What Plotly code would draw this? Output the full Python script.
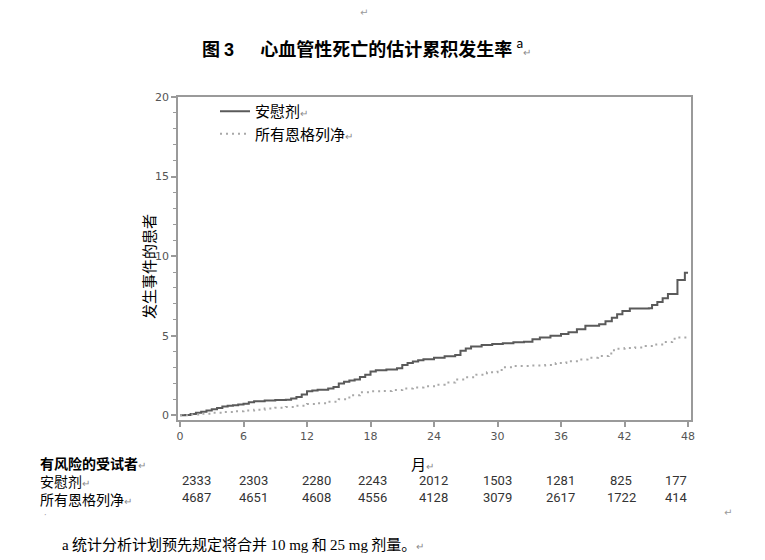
import plotly.graph_objects as go

# ---------------- data ----------------
placebo_month = [0, 0.5, 1, 1.5, 2, 2.5, 3, 3.5, 4, 4.5, 5, 5.5, 6, 6.5, 7, 8, 9, 10, 10.5, 11,
                 11.5, 12, 12.5, 13, 14, 14.5, 15, 15.5, 16, 16.5, 17, 17.5, 18, 18.5, 19.5, 20.5,
                 21, 21.5, 22, 22.5, 23, 24, 25, 26, 26.5, 27, 27.5, 28.5, 29.5, 30.5, 31.5, 32.5,
                 33.3, 34, 35, 36, 36.7, 37.5, 38.3, 39.6, 40.2, 40.8, 41.3, 41.8, 42.5, 44.3,
                 44.6, 45.1, 45.6, 46.1, 47.0, 47.7, 48]
placebo_ci = [0, 0.02, 0.08, 0.15, 0.22, 0.30, 0.38, 0.45, 0.55, 0.60, 0.62, 0.68, 0.72, 0.82, 0.88,
              0.92, 0.95, 0.98, 1.05, 1.15, 1.30, 1.50, 1.55, 1.60, 1.68, 1.78, 2.00, 2.10, 2.18,
              2.25, 2.40, 2.55, 2.75, 2.82, 2.88, 2.95, 3.15, 3.28, 3.38, 3.45, 3.52, 3.62, 3.70,
              3.78, 4.05, 4.20, 4.32, 4.42, 4.48, 4.52, 4.58, 4.62, 4.78, 4.88, 5.00, 5.10, 5.22,
              5.40, 5.62, 5.72, 5.90, 6.12, 6.35, 6.55, 6.70, 6.72, 6.92, 7.12, 7.35, 7.62, 8.50,
              8.95, 8.95]

ertu_month = [0, 1, 2, 3, 4, 5, 6, 7, 8, 9, 10, 11, 12, 13, 14, 15, 16, 17, 18, 19, 20, 21, 22,
              23, 24, 25, 26, 27, 28, 29, 30, 30.5, 31.5, 33, 34.5, 35.5, 36.5, 37.5, 38.5, 39.5,
              40.5, 41, 42, 43, 44, 45, 45.7, 46.5, 47, 48]
ertu_ci = [0, 0.05, 0.10, 0.15, 0.20, 0.25, 0.30, 0.35, 0.42, 0.47, 0.52, 0.60, 0.70, 0.75, 0.85,
           1.00, 1.25, 1.45, 1.50, 1.52, 1.58, 1.68, 1.75, 1.82, 1.92, 2.05, 2.25, 2.38, 2.55,
           2.70, 2.85, 3.02, 3.10, 3.12, 3.15, 3.28, 3.40, 3.50, 3.62, 3.72, 3.88, 4.18, 4.22,
           4.26, 4.35, 4.45, 4.60, 4.80, 4.88, 4.90]

risk_month = [0, 6, 12, 18, 24, 30, 36, 42, 48]
placebo_risk = [2333, 2303, 2280, 2243, 2012, 1503, 1281, 825, 177]
ertu_risk = [4687, 4651, 4608, 4556, 4128, 3079, 2617, 1722, 414]

x_ticks = [0, 6, 12, 18, 24, 30, 36, 42, 48]
y_ticks = [0, 5, 10, 15, 20]

name_placebo = "安慰剂"
name_ertu = "所有恩格列净"

# ---------------- layout helpers ----------------
W, H = 765, 560
L, R, T, B = 178, 691, 97, 420


def px_x(px):
    return (px - L) / (R - L)


def px_y(py):
    return (B - py) / (B - T)


CJK = "Noto Sans CJK SC"
MARK = '<span style="font-size:10px;color:#8a8a8a">↵</span>'

fig = go.Figure()
fig.add_trace(go.Scatter(
    x=placebo_month, y=placebo_ci, mode="lines", line_shape="hv",
    name=name_placebo + MARK,
    line=dict(color="#5a5a5a", width=2)))
fig.add_trace(go.Scatter(
    x=ertu_month, y=ertu_ci, mode="lines", line_shape="hv",
    name=name_ertu + MARK,
    line=dict(color="#a8a8a8", width=2, dash="2px,4px")))

annotations = []


def note(px, py, text, size=15, family=CJK, color="#000000", xanchor="left",
         yanchor="middle", **kw):
    annotations.append(dict(
        x=px_x(px), y=px_y(py), xref="paper", yref="paper", xanchor=xanchor,
        yanchor=yanchor, showarrow=False, text=text,
        font=dict(family=family, size=size, color=color), **kw))


# title
note(200, 47,
     "<b>图 <span style=\"font-family:Liberation Sans\">3</span></b>　  "
     "<b>心血管性死亡的估计累积发生率</b> <sup>a</sup>" + MARK, size=18)
# stray paragraph marks from the source document
note(364, 12, "↵", size=10, family="DejaVu Sans", color="#9a9a9a", xanchor="center")
note(728, 512, "↵", size=10, family="DejaVu Sans", color="#9a9a9a", xanchor="center")
note(45, 515, "·", size=8, family="DejaVu Sans", color="#9a9a9a", xanchor="center")
# y axis title
note(148, 267, "发生事件的患者", xanchor="center", textangle=-90)
# x axis title
note(409, 463, "月" + MARK)
# at-risk table labels (one block of three lines)
note(38, 451,
     "<b>有风险的受试者</b>" + MARK + "<br>" + name_placebo + MARK + "<br>" + name_ertu + MARK,
     size=14, yanchor="top", align="left")

shifts = [16, 9.5, 9, 1.5, -0.5, -0.5, -1, -3.5, -12]
for m, p, e, s in zip(risk_month, placebo_risk, ertu_risk, shifts):
    annotations.append(dict(x=m, y=px_y(480), xref="x", yref="paper", xshift=s,
                            xanchor="center", yanchor="middle",
                            showarrow=False, text=str(p),
                            font=dict(family="Roboto", size=13, color="#333333")))
    annotations.append(dict(x=m, y=px_y(497), xref="x", yref="paper", xshift=s,
                            xanchor="center", yanchor="middle",
                            showarrow=False, text=str(e),
                            font=dict(family="Roboto", size=13, color="#333333")))
# footnote
note(60, 543,
     '<span style="font-family:Liberation Serif">a</span> 统计分析计划预先规定将合并 '
     '<span style="font-family:Liberation Serif">10 mg</span> 和 '
     '<span style="font-family:Liberation Serif">25 mg</span> 剂量。' + MARK)

fig.update_layout(
    width=W, height=H,
    margin=dict(l=L, r=W - R, t=T, b=H - B, pad=0),
    paper_bgcolor="white", plot_bgcolor="white",
    showlegend=True,
    legend=dict(x=px_x(215), y=px_y(95), xanchor="left", yanchor="top",
                bgcolor="rgba(0,0,0,0)", borderwidth=0,
                font=dict(family=CJK, size=15, color="#000000"),
                tracegroupgap=0, itemwidth=30),
    annotations=annotations,
)
fig.update_xaxes(
    range=[-0.19, 48.28], tickvals=x_ticks, ticktext=[str(v) for v in x_ticks],
    showgrid=False, zeroline=False, showline=True, linecolor="#9a9a9a", linewidth=1.5,
    mirror=True, ticks="outside", ticklen=5, tickwidth=1.5, tickcolor="#9a9a9a",
    tickfont=dict(family="DejaVu Sans", size=11, color="#555555"))
fig.update_yaxes(
    range=[-0.3, 20], tickvals=y_ticks, ticktext=[str(v) for v in y_ticks],
    showgrid=False, zeroline=False, showline=True, linecolor="#9a9a9a", linewidth=1.5,
    mirror=True, ticks="outside", ticklen=5, tickwidth=1.5, tickcolor="#9a9a9a",
    tickfont=dict(family="DejaVu Sans", size=11, color="#555555"),
    minor=dict(dtick=1, ticks="outside", ticklen=3, tickcolor="#9a9a9a", tickwidth=1,
               showgrid=False))

fig.write_html("out.html", config={"displayModeBar": False},
               post_script="document.body.style.margin='0';document.body.style.overflow='hidden';")
